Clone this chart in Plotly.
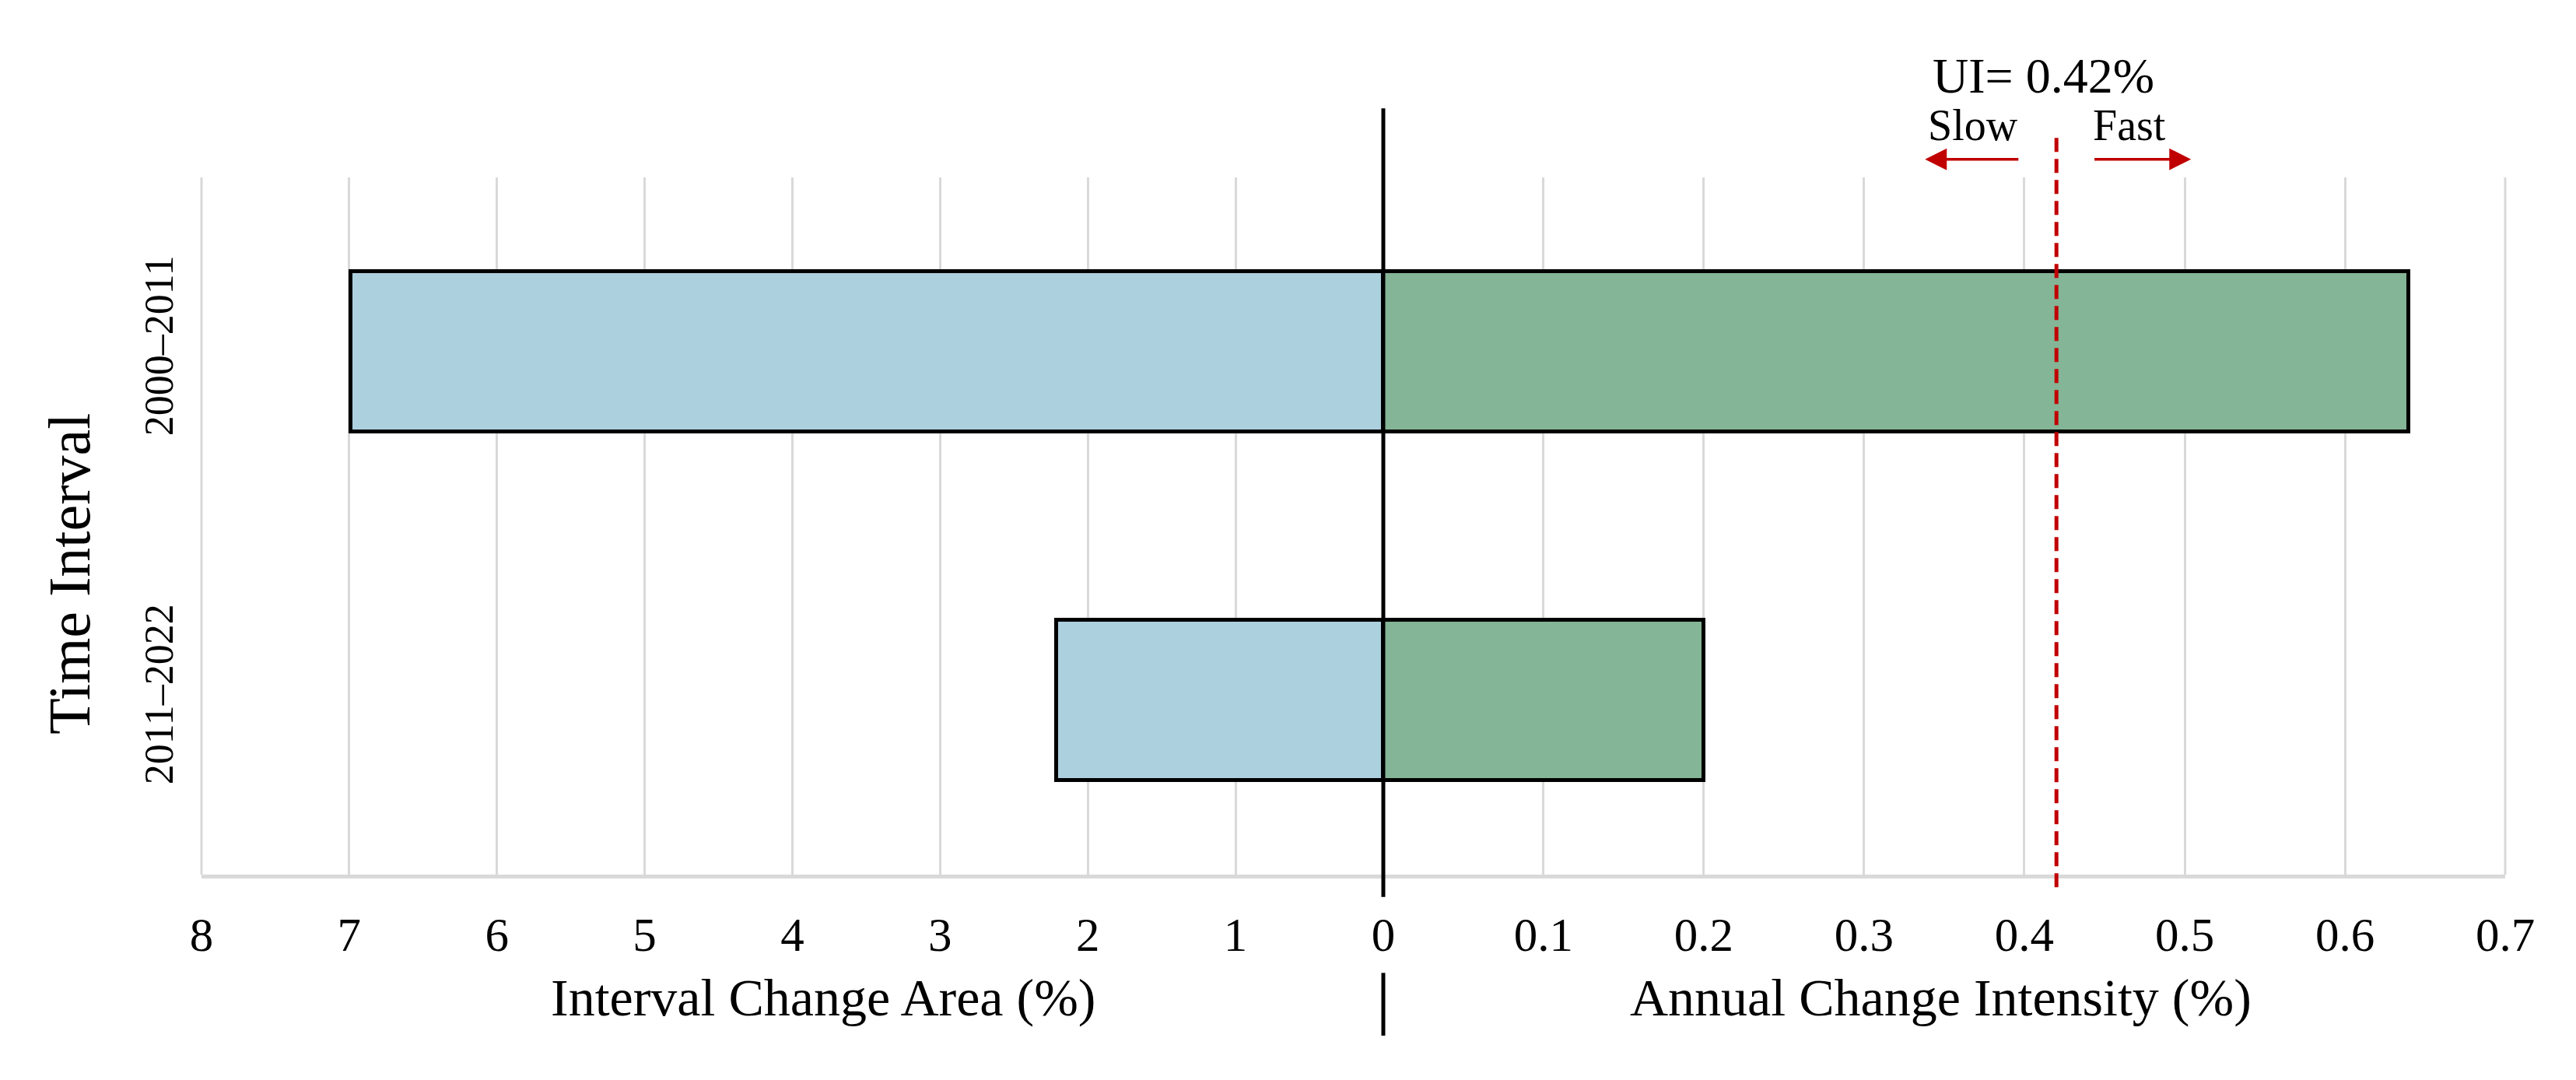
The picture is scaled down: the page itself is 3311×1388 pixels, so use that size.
import plotly.graph_objects as go
from plotly.subplots import make_subplots

# data
intervals = ["2000–2011", "2011–2022"]
interval_change_area = [6.99, 2.21]      # %
annual_change_intensity = [0.64, 0.20]   # %
uniform_intensity = 0.42                 # %

left_ticks = [8, 7, 6, 5, 4, 3, 2, 1, 0]
right_ticks = [0.1, 0.2, 0.3, 0.4, 0.5, 0.6, 0.7]

FONT = "Liberation Serif, Times New Roman, serif"
GRID = "#d9d9d9"
RED = "#c00000"
SPLIT = 0.513  # where the two panels meet

fig = make_subplots(rows=1, cols=2, shared_yaxes=True, horizontal_spacing=0,
                    column_widths=[SPLIT, 1 - SPLIT])

fig.add_trace(go.Bar(
    y=intervals, x=interval_change_area, orientation="h", width=0.46,
    marker=dict(color="#add0df", line=dict(color="black", width=5)),
    showlegend=False,
), row=1, col=1)

fig.add_trace(go.Bar(
    y=intervals, x=annual_change_intensity, orientation="h", width=0.46,
    marker=dict(color="#84b596", line=dict(color="black", width=5)),
    showlegend=False,
), row=1, col=2)

axis_common = dict(
    showgrid=True, gridcolor=GRID, gridwidth=3, zeroline=False,
    showline=True, linecolor=GRID, linewidth=5, ticks="",
    tickfont=dict(family=FONT, size=61, color="black"),
    ticklabelstandoff=20,
)
fig.update_xaxes(range=[8, 0], tickvals=left_ticks, row=1, col=1, **axis_common)
fig.update_xaxes(range=[0, 0.7], tickvals=right_ticks, row=1, col=2, **axis_common)

fig.update_yaxes(
    categoryorder="array", categoryarray=intervals[::-1],
    range=[-0.5, 1.5], showgrid=False, zeroline=False, showline=False,
    ticks="", tickangle=-90, ticklabelstandoff=26,
    tickfont=dict(family=FONT, size=52, color="black"),
)

# outer grid borders (8 on the left, 0.7 on the right)
for x in [0, 1]:
    fig.add_shape(type="line", xref="paper", yref="paper", x0=x, x1=x, y0=0, y1=1,
                  line=dict(color=GRID, width=3), layer="below")

# black centre line, split around the "0" tick label
for y0, y1 in [(-0.032, 1.099), (-0.231, -0.141)]:
    fig.add_shape(type="line", xref="paper", yref="paper", x0=SPLIT, x1=SPLIT,
                  y0=y0, y1=y1, line=dict(color="black", width=5), layer="above")

# uniform intensity line
fig.add_shape(type="line", xref="x2", yref="paper",
              x0=uniform_intensity, x1=uniform_intensity, y0=-0.018, y1=1.066,
              line=dict(color=RED, width=5, dash="18px,9px"), layer="above")

txt = dict(showarrow=False, xanchor="center", yanchor="middle")
arrow = dict(text="", xref="x2", yref="paper", axref="x2", ayref="pixel", ay=0,
             showarrow=True, arrowhead=2, arrowsize=1.6, arrowwidth=3.5,
             arrowcolor=RED)

annotations = [
    dict(text="UI= 0.42%", x=0.412, y=1.146, xref="x2", yref="paper",
         font=dict(family=FONT, size=64, color="black"), **txt),
    dict(text="Slow", x=0.368, y=1.075, xref="x2", yref="paper",
         font=dict(family=FONT, size=56, color="black"), **txt),
    dict(text="Fast", x=0.4655, y=1.075, xref="x2", yref="paper",
         font=dict(family=FONT, size=56, color="black"), **txt),
    dict(x=0.338, y=1.026, ax=0.397, **arrow),
    dict(x=0.504, y=1.026, ax=0.443, **arrow),
    dict(text="Interval Change Area (%)", x=0.270, y=-0.176, xref="paper", yref="paper",
         font=dict(family=FONT, size=68, color="black"), **txt),
    dict(text="Annual Change Intensity (%)", x=0.755, y=-0.176, xref="paper", yref="paper",
         font=dict(family=FONT, size=68, color="black"), **txt),
    dict(text="Time Interval", x=-0.0575, y=0.432, xref="paper", yref="paper",
         textangle=-90, font=dict(family=FONT, size=76, color="black"), **txt),
]

fig.update_layout(
    width=3311, height=1388,
    margin=dict(l=251, r=99, t=220, b=272),
    paper_bgcolor="white", plot_bgcolor="white",
    bargap=0, annotations=annotations,
)

fig.write_html("out.html")
